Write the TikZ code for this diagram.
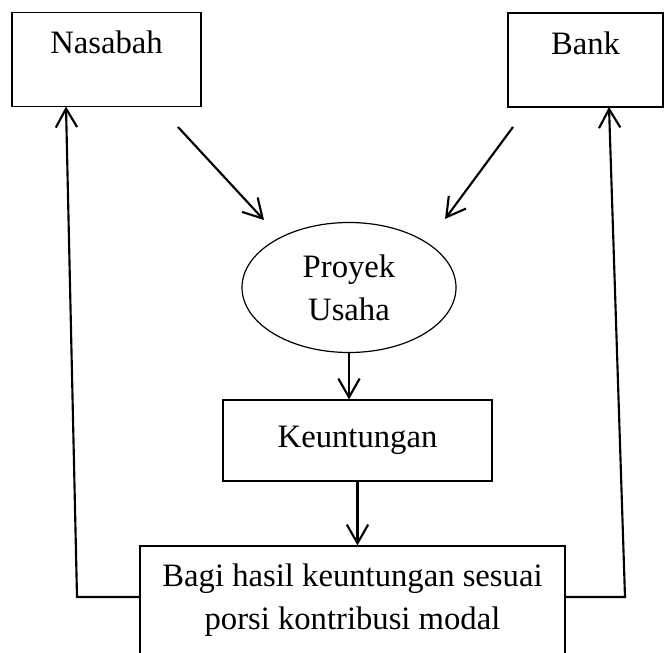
\documentclass[tikz,border=0pt]{standalone}
\usepackage{fontspec}
\setmainfont{Liberation Serif}
\usetikzlibrary{arrows.meta,shapes.geometric}
\begin{document}
\begin{tikzpicture}[x=0.75pt,y=-0.75pt,
  box/.style={draw,line width=0.9pt,inner sep=0pt,font=\fontsize{24.5}{32.5}\selectfont},
  arr/.style={line width=1.6pt,-{Straight Barb[length=14pt,width=16pt,line width=1.6pt]}},
  ln/.style={line width=1.6pt}]
\useasboundingbox (0,0) rectangle (664,653);
\begin{scope}
\clip (0,0) rectangle (664,653);
\node[box,minimum width=141.75pt,minimum height=70.5pt,text height=30.75pt,text depth=39.75pt] (nas) at (106.5,59.5) {Nasabah};
\node[box,minimum width=116.25pt,minimum height=70.5pt,text height=30.75pt,text depth=39.75pt] (bank) at (585.5,60) {Bank};
\node[box,ellipse,minimum width=160.5pt,minimum height=97.5pt,align=center] (pro) at (349,287.5) {Proyek\\Usaha};
\node[box,minimum width=201.75pt,minimum height=60.75pt] (keu) at (357.5,440.5) {Keuntungan};
\node[box,minimum width=318.75pt,minimum height=81pt,align=center] (bagi) at (352.5,600) {Bagi hasil keuntungan sesuai\\porsi kontribusi modal};
\end{scope}
\coordinate (a1) at (178,127);
\coordinate (a2) at (264,220);
\coordinate (b1) at (513,127);
\coordinate (b2) at (445,219);
\coordinate (lc) at (77,597);
\coordinate (lt) at (66,106.5);
\coordinate (rc) at (625,597);
\coordinate (rt) at (609,107);
\draw[arr] (a1) -- (a2);
\draw[arr] (b1) -- (b2);
\draw[arr] (pro.south) -- (pro.south |- keu.north);
\draw[arr] (keu.south) -- (keu.south |- bagi.north);
\draw[arr] (bagi.west |- lc) -- (lc) -- (lt);
\draw[arr] (bagi.east |- rc) -- (rc) -- (rt);
\end{tikzpicture}
\end{document}
